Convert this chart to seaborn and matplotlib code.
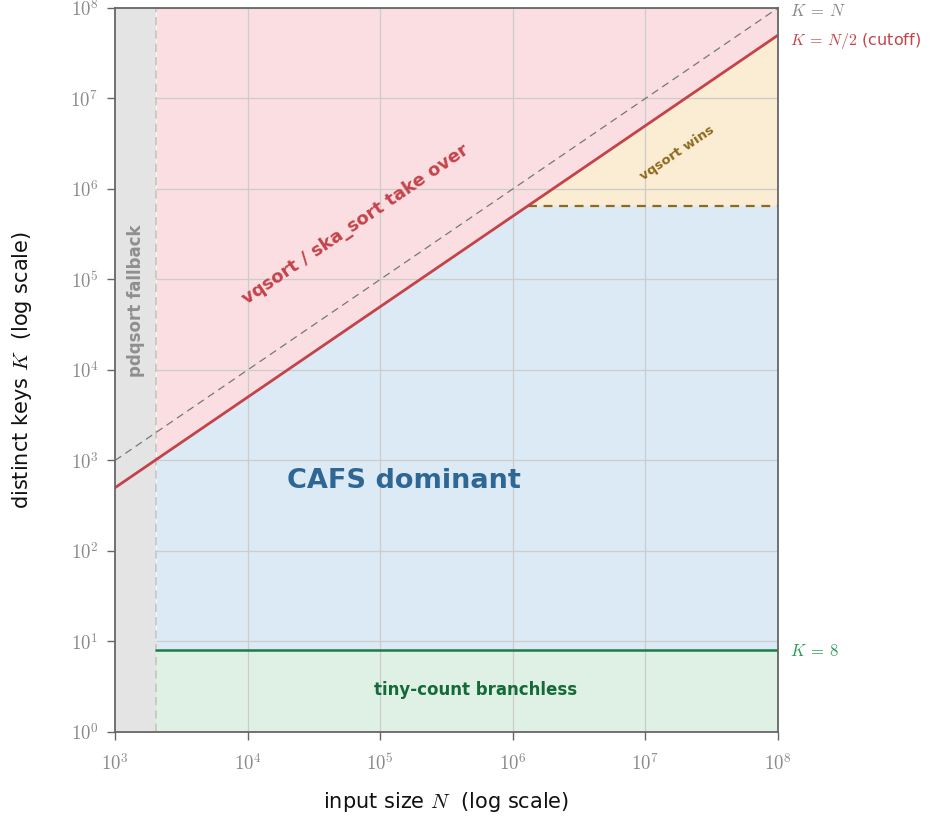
import numpy as np
import pandas as pd
import matplotlib
matplotlib.use("Agg")
import matplotlib.pyplot as plt
import seaborn as sns

# ---- data ----
n_range = [1e3, 1e8]            # input size range
k_range = [1e0, 1e8]            # distinct keys range
n_fallback = 2048               # pdqsort fallback below this N
k_tiny = 8                      # tiny-count branchless threshold
k_vq = 655360                   # vqsort wins above this K (when K < N/2)
cutoff_ratio = 0.5              # K = N/2 cutoff

region_labels = ["pdqsort fallback", "vqsort / ska_sort take over", "CAFS dominant",
                 "tiny-count branchless", "vqsort wins"]
xtick_vals = [1e3, 1e4, 1e5, 1e6, 1e7, 1e8]
ytick_vals = [1e0, 1e1, 1e2, 1e3, 1e4, 1e5, 1e6, 1e7, 1e8]
xtick_labels = [r"$10^{3}$", r"$10^{4}$", r"$10^{5}$", r"$10^{6}$", r"$10^{7}$", r"$10^{8}$"]
ytick_labels = [r"$10^{0}$", r"$10^{1}$", r"$10^{2}$", r"$10^{3}$", r"$10^{4}$",
                r"$10^{5}$", r"$10^{6}$", r"$10^{7}$", r"$10^{8}$"]

sns.set_theme(style="whitegrid")
plt.rcParams["font.family"] = ["DejaVu Sans"]
plt.rcParams["mathtext.fontset"] = "cm"

fig = plt.figure(figsize=(9.35, 8.24), dpi=100)
ax = fig.add_axes([0.123, 0.1117, 0.709, 0.8786])
ax.set_xscale("log")
ax.set_yscale("log")
ax.set_xlim(*n_range)
ax.set_ylim(*k_range)

# colours
c_red_fill = "#fadee1"
c_blue_fill = "#dbeaf5"
c_yel_fill = "#faedd4"
c_grn_fill = "#dff1e5"
c_gray_fill = "#e4e4e4"
c_red = "#c4434a"
c_green = "#1a7d45"
c_brown = "#8d6a1c"
c_blue_txt = "#2e6694"

N = np.logspace(np.log10(n_fallback), 8, 400)
cut = N * cutoff_ratio
top = np.full_like(N, k_range[1])

# fills
ax.fill_between(N, cut, top, color=c_red_fill, lw=0, zorder=1)
ax.fill_between(N, k_tiny, np.minimum(cut, k_vq), color=c_blue_fill, lw=0, zorder=1)
ax.fill_between(N, k_vq, cut, where=cut >= k_vq, color=c_yel_fill, lw=0, zorder=1, interpolate=True)
ax.fill_between(N, k_range[0], k_tiny, color=c_grn_fill, lw=0, zorder=1)
ax.axvspan(n_range[0], n_fallback, color=c_gray_fill, lw=0, zorder=1.6)

# grid
ax.set_axisbelow("line")
ax.grid(True, which="major", color="#cccccc", lw=0.9)
ax.grid(False, which="minor")

# lines via seaborn
full_N = np.array(n_range)
df_diag = pd.DataFrame({"N": full_N, "K": full_N})
df_cut = pd.DataFrame({"N": full_N, "K": full_N * cutoff_ratio})
df_tiny = pd.DataFrame({"N": [n_fallback, n_range[1]], "K": [k_tiny, k_tiny]})
df_vq = pd.DataFrame({"N": [k_vq / cutoff_ratio, n_range[1]], "K": [k_vq, k_vq]})

sns.lineplot(data=df_diag, x="N", y="K", ax=ax, color="#777777", lw=0.9,
             linestyle=(0, (6, 4)), zorder=3)
sns.lineplot(data=df_cut, x="N", y="K", ax=ax, color=c_red, lw=2.0, zorder=3.2)
sns.lineplot(data=df_tiny, x="N", y="K", ax=ax, color=c_green, lw=1.8, zorder=3)
sns.lineplot(data=df_vq, x="N", y="K", ax=ax, color=c_brown, lw=1.6,
             linestyle=(0, (4, 3)), zorder=3)
ax.axvline(n_fallback, color="#c4c4c4", lw=1.2, linestyle=(0, (5, 3)), zorder=1.7)

# right side labels
ax.annotate(r"$K\:=\:N$", xy=(1e8, 1e8), xytext=(9, -2), textcoords="offset points",
            color="#888888", fontsize=12, va="center", ha="left", annotation_clip=False)
ax.annotate(r"$K\:=\:N/2$ (cutoff)", xy=(1e8, 5e7), xytext=(9, -4.5), textcoords="offset points",
            color=c_red, fontsize=11.5, va="center", ha="left", annotation_clip=False)
ax.annotate(r"$K\:=\:8$", xy=(1e8, k_tiny), xytext=(9, -0.5), textcoords="offset points",
            color="#2a9a58", fontsize=12, va="center", ha="left", annotation_clip=False)

# region labels
ax.text(10**3.155, 10**4.77, region_labels[0], rotation=90, color="#8f8f8f",
        fontsize=12, fontweight="bold", ha="center", va="center", zorder=4)
ax.text(10**4.81, 10**5.61, region_labels[1], rotation=34.3, rotation_mode="anchor",
        color=c_red, fontsize=13, fontweight="bold", ha="center", va="center", zorder=4)
ax.text(10**5.18, 10**2.77, region_labels[2], color=c_blue_txt, fontsize=19.5,
        fontweight="bold", ha="center", va="center", zorder=4)
ax.text(10**5.72, 10**0.46, region_labels[3], color="#146a38", fontsize=12,
        fontweight="bold", ha="center", va="center", zorder=4)
ax.text(10**7.24, 10**6.40, region_labels[4], rotation=34.3, rotation_mode="anchor",
        color=c_brown, fontsize=9.5, fontweight="bold", ha="center", va="center", zorder=4)

# ticks & spines
ax.set_xticks(xtick_vals)
ax.set_xticklabels(xtick_labels)
ax.set_yticks(ytick_vals)
ax.set_yticklabels(ytick_labels)
ax.minorticks_off()
ax.tick_params(axis="both", which="major", bottom=True, left=True, length=6, width=1.0,
               color="#666666", labelcolor="#8a8a8a", labelsize=13.5, direction="out", pad=6)
ax.tick_params(axis="x", pad=9)
for s in ax.spines.values():
    s.set_color("#666666")
    s.set_linewidth(1.3)
    s.set_zorder(5)

ax.set_xlabel(r"input size $N$  (log scale)", fontsize=15, color="#111111", labelpad=12)
ax.set_ylabel(r"distinct keys $K$  (log scale)", fontsize=15, color="#111111", labelpad=26)

fig.savefig("out.png", dpi=100)
